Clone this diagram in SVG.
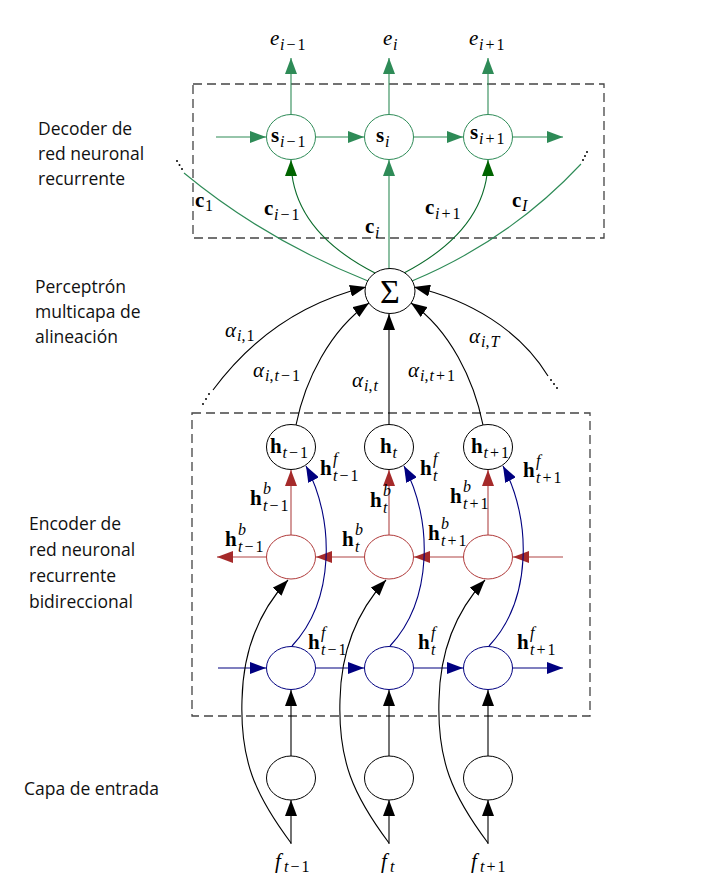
<svg xmlns="http://www.w3.org/2000/svg" width="719" height="892" viewBox="0 0 719 892">
<style>
.m{font-family:"Liberation Serif",serif;font-size:21px;fill:#000}
.b{font-weight:bold}
.i{font-style:italic}
.s{font-family:"Liberation Serif",serif;font-size:16px;fill:#000}
.lab{font-family:"Open Sans","Liberation Sans",sans-serif;font-size:17.5px;fill:#111}
.box{fill:none;stroke:#444;stroke-width:1.3;stroke-dasharray:9 5}
.ng{fill:#fff;stroke:#2e8b57;stroke-width:1}
.nk{fill:#fff;stroke:#000;stroke-width:1}
.nr{fill:#fff;stroke:#b03a3a;stroke-width:1}
.nb{fill:#fff;stroke:#000080;stroke-width:1}
.lg{fill:none;stroke:#2e8b57;stroke-width:1.1}
.ld{fill:none;stroke:#0b6b2b;stroke-width:1.1}
.lk{fill:none;stroke:#000;stroke-width:1.1}
.lr{fill:none;stroke:#b04545;stroke-width:1.1}
.lb{fill:none;stroke:#000080;stroke-width:1.1}
.dot{fill:#000}
</style>
<defs>
<marker id="aG" viewBox="0 0 16 12" refX="16" refY="6" markerWidth="16" markerHeight="12" markerUnits="userSpaceOnUse" orient="auto"><path d="M0,0 L16,6 L0,12 z" fill="#2e8b57"/></marker>
<marker id="aD" viewBox="0 0 16 12" refX="16" refY="6" markerWidth="16" markerHeight="12" markerUnits="userSpaceOnUse" orient="auto"><path d="M0,0 L16,6 L0,12 z" fill="#006400"/></marker>
<marker id="aK" viewBox="0 0 16 12" refX="16" refY="6" markerWidth="16" markerHeight="12" markerUnits="userSpaceOnUse" orient="auto"><path d="M0,0 L16,6 L0,12 z" fill="#000"/></marker>
<marker id="aR" viewBox="0 0 16 12" refX="16" refY="6" markerWidth="16" markerHeight="12" markerUnits="userSpaceOnUse" orient="auto"><path d="M0,0 L16,6 L0,12 z" fill="#a52a2a"/></marker>
<marker id="aB" viewBox="0 0 16 12" refX="16" refY="6" markerWidth="16" markerHeight="12" markerUnits="userSpaceOnUse" orient="auto"><path d="M0,0 L16,6 L0,12 z" fill="#000080"/></marker>
</defs>
<rect width="719" height="892" fill="#fff"/>

<g id="side-labels">
<text class="lab" x="38" y="135">Decoder de</text>
<text class="lab" x="38" y="160">red neuronal</text>
<text class="lab" x="38" y="185">recurrente</text>
<text class="lab" x="35" y="293">Perceptrón</text>
<text class="lab" x="35" y="318">multicapa de</text>
<text class="lab" x="35" y="343">alineación</text>
<text class="lab" x="29" y="530">Encoder de</text>
<text class="lab" x="29" y="556">red neuronal</text>
<text class="lab" x="29" y="582">recurrente</text>
<text class="lab" x="29" y="608">bidireccional</text>
<text class="lab" x="24" y="795">Capa de entrada</text>
</g>

<g id="boxes">
<rect class="box" x="193" y="84" width="411" height="154"/>
<rect class="box" x="192" y="413" width="398" height="303"/>
</g>

<g id="connectors">
<path class="lg" d="M291,114 L291,58" marker-end="url(#aG)"/>
<path class="lg" d="M389,114 L389,58" marker-end="url(#aG)"/>
<path class="lg" d="M488,114 L488,58" marker-end="url(#aG)"/>
<path class="lg" d="M216,137 L266,137" marker-end="url(#aG)"/>
<path class="lg" d="M316,137 L364,137" marker-end="url(#aG)"/>
<path class="lg" d="M414,137 L463,137" marker-end="url(#aG)"/>
<path class="lg" d="M513,137 L563,137" marker-end="url(#aG)"/>
<path class="lg" d="M184,173 Q265,240 368,281"/>
<path class="ld" d="M375,273 C330,250 291,215 291,160" marker-end="url(#aD)"/>
<path class="lg" d="M389,269 L389,160" marker-end="url(#aG)"/>
<path class="ld" d="M404,273 C448,250 488,215 488,160" marker-end="url(#aD)"/>
<path class="lg" d="M581,164 Q510,240 412,281"/>
<path class="lk" d="M213,390 C250,340 300,303 366,287" marker-end="url(#aK)"/>
<path class="lk" d="M296,425 C305,380 330,330 369,303" marker-end="url(#aK)"/>
<path class="lk" d="M389,425 L389,314" marker-end="url(#aK)"/>
<path class="lk" d="M483,425 C474,380 450,330 411,303" marker-end="url(#aK)"/>
<path class="lk" d="M548,376 C520,330 470,300 414,287" marker-end="url(#aK)"/>
<path class="lr" d="M291,535 L291,470" marker-end="url(#aR)"/>
<path class="lr" d="M389,535 L389,470" marker-end="url(#aR)"/>
<path class="lr" d="M488,535 L488,470" marker-end="url(#aR)"/>
<path class="lr" d="M563,557 L513,557" marker-end="url(#aR)"/>
<path class="lr" d="M464,557 L414,557" marker-end="url(#aR)"/>
<path class="lr" d="M365,557 L316,557" marker-end="url(#aR)"/>
<path class="lr" d="M266,557 L217,557" marker-end="url(#aR)"/>
<path class="lb" d="M218,668 L266,668" marker-end="url(#aB)"/>
<path class="lb" d="M316,668 L364,668" marker-end="url(#aB)"/>
<path class="lb" d="M414,668 L463,668" marker-end="url(#aB)"/>
<path class="lb" d="M513,668 L563,668" marker-end="url(#aB)"/>
<path class="lb" d="M292,646 C335,600 335,520 306,466" marker-end="url(#aB)"/>
<path class="lb" d="M390,646 C433,600 433,520 404,466" marker-end="url(#aB)"/>
<path class="lb" d="M489,646 C532,600 532,520 503,466" marker-end="url(#aB)"/>
<path class="lk" d="M291,843 C255,795 240,760 242,700 C243,650 260,610 288,580" marker-end="url(#aK)"/>
<path class="lk" d="M389,843 C353,795 338,760 340,700 C341,650 358,610 386,580" marker-end="url(#aK)"/>
<path class="lk" d="M488,843 C452,795 437,760 439,700 C440,650 457,610 485,580" marker-end="url(#aK)"/>
<path class="lk" d="M291,756 L291,690" marker-end="url(#aK)"/>
<path class="lk" d="M389,756 L389,690" marker-end="url(#aK)"/>
<path class="lk" d="M488,756 L488,690" marker-end="url(#aK)"/>
<path class="lk" d="M291,844 L291,800" marker-end="url(#aK)"/>
<path class="lk" d="M389,844 L389,800" marker-end="url(#aK)"/>
<path class="lk" d="M488,844 L488,800" marker-end="url(#aK)"/>
</g>

<g id="ellipsis-dots">
<circle class="dot" cx="177" cy="161" r="1"/><circle class="dot" cx="179.5" cy="165" r="1"/><circle class="dot" cx="182" cy="169" r="1"/>
<circle class="dot" cx="587" cy="152" r="1"/><circle class="dot" cx="585" cy="156" r="1"/><circle class="dot" cx="583" cy="160" r="1"/>
<circle class="dot" cx="203" cy="404" r="1"/><circle class="dot" cx="206" cy="399" r="1"/><circle class="dot" cx="209" cy="394" r="1"/>
<circle class="dot" cx="551" cy="380" r="1"/><circle class="dot" cx="554" cy="384" r="1"/><circle class="dot" cx="557" cy="388" r="1"/>
</g>

<g id="node-s1"><ellipse class="ng" cx="291" cy="137" rx="24.5" ry="22.5"/><text class="m b" x="271" y="142">s</text><text class="s" x="280" y="147"><tspan class="i">i</tspan><tspan dx="2">−</tspan><tspan dx="2">1</tspan></text></g>
<g id="node-s2"><ellipse class="ng" cx="389" cy="137" rx="24.5" ry="22.5"/><text class="m b" x="376" y="142">s</text><text class="s i" x="385" y="147">i</text></g>
<g id="node-s3"><ellipse class="ng" cx="488" cy="137" rx="24.5" ry="22.5"/><text class="m b" x="470" y="139">s</text><text class="s" x="479" y="144"><tspan class="i">i</tspan><tspan dx="2">+</tspan><tspan dx="2">1</tspan></text></g>

<g id="node-sum"><ellipse class="nk" cx="390" cy="291" rx="25" ry="22.5"/><text class="m" x="390" y="303" text-anchor="middle" style="font-size:34px">Σ</text></g>

<g id="node-h1"><ellipse class="nk" cx="291" cy="447" rx="24.5" ry="22.5"/><text class="m b" x="270" y="453">h</text><text class="s" x="282.5" y="458"><tspan class="i">t</tspan><tspan dx="2">−</tspan><tspan dx="2">1</tspan></text></g>
<g id="node-h2"><ellipse class="nk" cx="389" cy="447" rx="24.5" ry="22.5"/><text class="m b" x="380" y="453">h</text><text class="s i" x="392.5" y="458">t</text></g>
<g id="node-h3"><ellipse class="nk" cx="488" cy="447" rx="24.5" ry="22.5"/><text class="m b" x="471" y="453">h</text><text class="s" x="483.5" y="458"><tspan class="i">t</tspan><tspan dx="2">+</tspan><tspan dx="2">1</tspan></text></g>

<g id="node-b1"><ellipse class="nr" cx="291" cy="557" rx="24.5" ry="22"/></g>
<g id="node-b2"><ellipse class="nr" cx="389" cy="557" rx="24.5" ry="22"/></g>
<g id="node-b3"><ellipse class="nr" cx="488" cy="557" rx="24.5" ry="22"/></g>

<g id="node-f1"><ellipse class="nb" cx="291" cy="668" rx="24.5" ry="21.5"/></g>
<g id="node-f2"><ellipse class="nb" cx="389" cy="668" rx="24.5" ry="21.5"/></g>
<g id="node-f3"><ellipse class="nb" cx="488" cy="668" rx="24.5" ry="21.5"/></g>

<g id="node-x1"><ellipse class="nk" cx="291" cy="778" rx="24.5" ry="22"/></g>
<g id="node-x2"><ellipse class="nk" cx="389" cy="778" rx="24.5" ry="22"/></g>
<g id="node-x3"><ellipse class="nk" cx="488" cy="778" rx="24.5" ry="22"/></g>

<g id="labels">
<text class="m i" x="270" y="45">e</text><text class="s" x="280" y="50"><tspan class="i">i</tspan><tspan dx="2">−</tspan><tspan dx="2">1</tspan></text>
<text class="m i" x="383" y="45">e</text><text class="s i" x="393" y="50">i</text>
<text class="m i" x="469" y="45">e</text><text class="s" x="479" y="50"><tspan class="i">i</tspan><tspan dx="2">+</tspan><tspan dx="2">1</tspan></text>

<text class="m b" x="195" y="207">c</text><text class="s" x="205" y="211">1</text>
<text class="m b" x="264" y="215">c</text><text class="s" x="274" y="220"><tspan class="i">i</tspan><tspan dx="2">−</tspan><tspan dx="2">1</tspan></text>
<text class="m b" x="365" y="233">c</text><text class="s i" x="375" y="238">i</text>
<text class="m b" x="425" y="214">c</text><text class="s" x="435" y="219"><tspan class="i">i</tspan><tspan dx="2">+</tspan><tspan dx="2">1</tspan></text>
<text class="m b" x="512" y="207">c</text><text class="s i" x="522" y="211">I</text>

<text class="m i" x="225" y="337">α</text><text class="s" x="237" y="341"><tspan class="i">i</tspan>,<tspan dx="1">1</tspan></text>
<text class="m i" x="253" y="377">α</text><text class="s" x="265" y="381"><tspan class="i">i</tspan>,<tspan class="i" dx="1">t</tspan><tspan dx="2">−</tspan><tspan dx="2">1</tspan></text>
<text class="m i" x="352" y="387">α</text><text class="s" x="364" y="391"><tspan class="i">i</tspan>,<tspan class="i" dx="1">t</tspan></text>
<text class="m i" x="408" y="377">α</text><text class="s" x="420" y="381"><tspan class="i">i</tspan>,<tspan class="i" dx="1">t</tspan><tspan dx="2">+</tspan><tspan dx="2">1</tspan></text>
<text class="m i" x="469" y="343">α</text><text class="s" x="481" y="347"><tspan class="i">i</tspan>,<tspan class="i" dx="1">T</tspan></text>

<text class="m b" x="320" y="475">h</text><text class="s i" x="333" y="464">f</text><text class="s" x="333" y="481"><tspan class="i">t</tspan><tspan dx="2">−</tspan><tspan dx="2">1</tspan></text>
<text class="m b" x="420" y="475">h</text><text class="s i" x="433" y="464">f</text><text class="s i" x="433" y="481">t</text>
<text class="m b" x="523" y="477">h</text><text class="s i" x="536" y="466">f</text><text class="s" x="536" y="483"><tspan class="i">t</tspan><tspan dx="2">+</tspan><tspan dx="2">1</tspan></text>

<text class="m b" x="250" y="505">h</text><text class="s i" x="263" y="494">b</text><text class="s" x="263" y="511"><tspan class="i">t</tspan><tspan dx="2">−</tspan><tspan dx="2">1</tspan></text>
<text class="m b" x="370" y="507">h</text><text class="s i" x="383" y="496">b</text><text class="s i" x="383" y="513">t</text>
<text class="m b" x="450" y="503">h</text><text class="s i" x="463" y="492">b</text><text class="s" x="463" y="509"><tspan class="i">t</tspan><tspan dx="2">+</tspan><tspan dx="2">1</tspan></text>

<text class="m b" x="225" y="546">h</text><text class="s i" x="238" y="535">b</text><text class="s" x="238" y="552"><tspan class="i">t</tspan><tspan dx="2">−</tspan><tspan dx="2">1</tspan></text>
<text class="m b" x="342" y="546">h</text><text class="s i" x="355" y="535">b</text><text class="s i" x="355" y="552">t</text>
<text class="m b" x="428" y="540">h</text><text class="s i" x="441" y="529">b</text><text class="s" x="441" y="546"><tspan class="i">t</tspan><tspan dx="2">+</tspan><tspan dx="2">1</tspan></text>

<text class="m b" x="308" y="649">h</text><text class="s i" x="321" y="638">f</text><text class="s" x="321" y="655"><tspan class="i">t</tspan><tspan dx="2">−</tspan><tspan dx="2">1</tspan></text>
<text class="m b" x="418" y="649">h</text><text class="s i" x="431" y="638">f</text><text class="s i" x="431" y="655">t</text>
<text class="m b" x="517" y="649">h</text><text class="s i" x="530" y="638">f</text><text class="s" x="530" y="655"><tspan class="i">t</tspan><tspan dx="2">+</tspan><tspan dx="2">1</tspan></text>

<text class="m i" x="275" y="868">f</text><text class="s" x="284" y="872"><tspan class="i">t</tspan><tspan dx="2">−</tspan><tspan dx="2">1</tspan></text>
<text class="m i" x="381" y="868">f</text><text class="s i" x="390" y="872">t</text>
<text class="m i" x="471" y="868">f</text><text class="s" x="480" y="872"><tspan class="i">t</tspan><tspan dx="2">+</tspan><tspan dx="2">1</tspan></text>
</g>
</svg>
